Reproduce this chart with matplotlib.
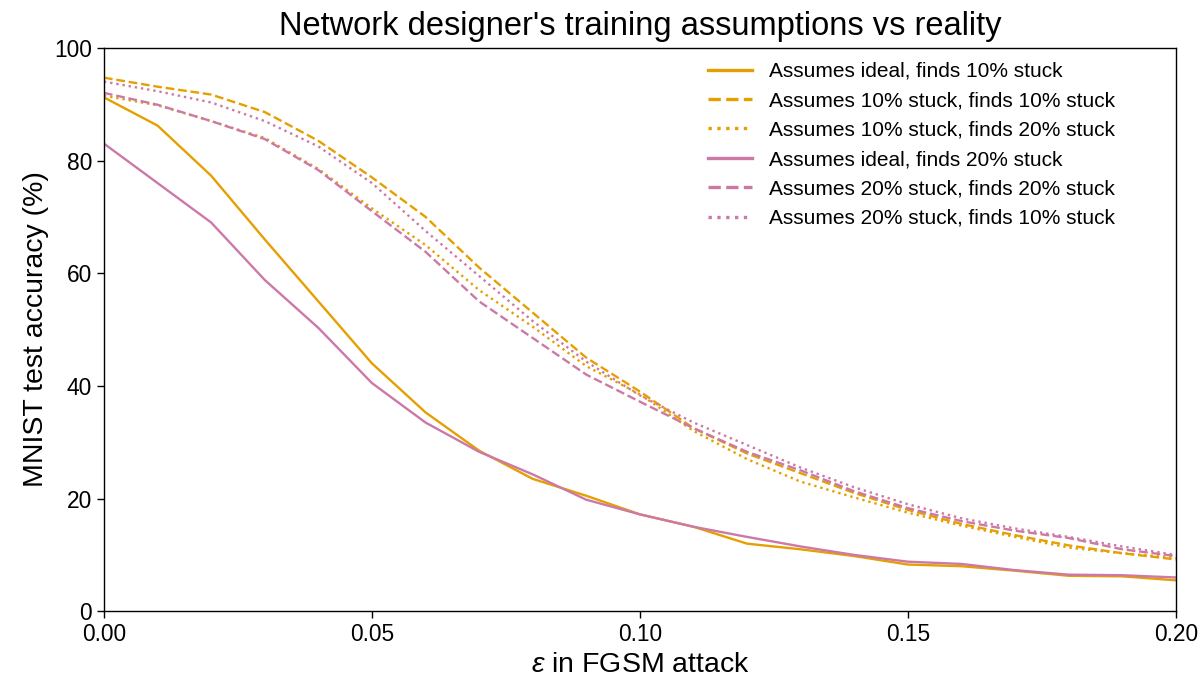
import matplotlib
matplotlib.use("Agg")
import matplotlib.pyplot as plt
import numpy as np

plt.rcParams['font.family'] = ['Liberation Sans', 'DejaVu Sans']
plt.rcParams['mathtext.fontset'] = 'custom'
plt.rcParams['mathtext.it'] = 'Liberation Sans:italic'
plt.rcParams['mathtext.rm'] = 'Liberation Sans'

eps = [0.00, 0.01, 0.02, 0.03, 0.04, 0.05, 0.06, 0.07, 0.08, 0.09, 0.10,
       0.11, 0.12, 0.13, 0.14, 0.15, 0.16, 0.17, 0.18, 0.19, 0.20]

ideal_10 = [91.2, 86.2, 77.3, 66.0, 55.0, 44.0, 35.3, 28.5, 23.5, 20.5, 17.2,
            15.0, 12.0, 11.0, 9.8, 8.3, 8.0, 7.2, 6.3, 6.2, 5.5]
s10_10 = [94.7, 93.1, 91.7, 88.6, 83.5, 77.0, 70.0, 61.0, 53.0, 45.0, 39.0,
          32.5, 28.0, 24.5, 21.0, 18.0, 15.5, 13.5, 11.7, 10.3, 9.2]
s10_20 = [91.5, 89.8, 87.0, 84.0, 78.5, 71.5, 65.0, 57.0, 50.5, 43.5, 38.5,
          32.0, 27.0, 23.0, 20.2, 17.5, 15.2, 13.2, 11.3, 10.3, 9.5]
ideal_20 = [83.0, 76.0, 69.0, 58.8, 50.3, 40.5, 33.5, 28.3, 24.3, 19.8, 17.2,
            15.0, 13.2, 11.5, 10.0, 8.8, 8.4, 7.3, 6.5, 6.4, 6.0]
s20_20 = [92.0, 89.9, 87.0, 83.8, 78.3, 71.0, 63.8, 55.0, 48.5, 42.0, 37.2,
          32.5, 28.3, 25.0, 21.3, 18.3, 16.0, 14.3, 13.0, 11.0, 9.8]
s20_10 = [94.0, 92.3, 90.3, 87.0, 82.5, 76.0, 67.5, 59.5, 51.5, 44.3, 38.3,
          33.5, 29.5, 25.5, 22.0, 19.0, 16.5, 14.7, 13.2, 11.5, 10.0]

labels = ["Assumes ideal, finds 10% stuck",
          "Assumes 10% stuck, finds 10% stuck",
          "Assumes 10% stuck, finds 20% stuck",
          "Assumes ideal, finds 20% stuck",
          "Assumes 20% stuck, finds 20% stuck",
          "Assumes 20% stuck, finds 10% stuck"]

xticks = [0, 0.05, 0.10, 0.15, 0.20]
xticklabels = ["0.00", "0.05", "0.10", "0.15", "0.20"]
yticks = [0, 20, 40, 60, 80, 100]

orange = "#E69F00"
pink = "#CC79A7"

fig = plt.figure(figsize=(11.99, 6.83), dpi=100)
ax = fig.add_axes([0.0867, 0.105, 0.894, 0.825])

series = [(ideal_10, orange, '-'), (s10_10, orange, '--'), (s10_20, orange, ':'),
          (ideal_20, pink, '-'), (s20_20, pink, '--'), (s20_10, pink, ':')]
for (vals, c, ls), lab in zip(series, labels):
    ax.plot(eps, vals, color=c, linestyle=ls, linewidth=1.7, label=lab)

ax.set_xlim(0, 0.2)
ax.set_ylim(0, 100)
ax.set_xticks(xticks)
ax.set_xticklabels(xticklabels)
ax.set_yticks(yticks)
ax.tick_params(labelsize=16.4, length=5, width=1.0)
for s in ax.spines.values():
    s.set_linewidth(1.0)
ax.set_xlabel(r"$\epsilon$ in FGSM attack", fontsize=20.5)
ax.set_ylabel("MNIST test accuracy (%)", fontsize=20.5)
ax.set_title("Network designer's training assumptions vs reality", fontsize=23.5, pad=9)
leg = ax.legend(loc="upper right", frameon=False, fontsize=15, handlelength=2.1,
                bbox_to_anchor=(0.943, 0.975), borderaxespad=0, borderpad=0,
                labelspacing=0.5)
for h in leg.get_lines():
    h.set_linewidth(2.4)

fig.savefig("out.png", dpi=100)
